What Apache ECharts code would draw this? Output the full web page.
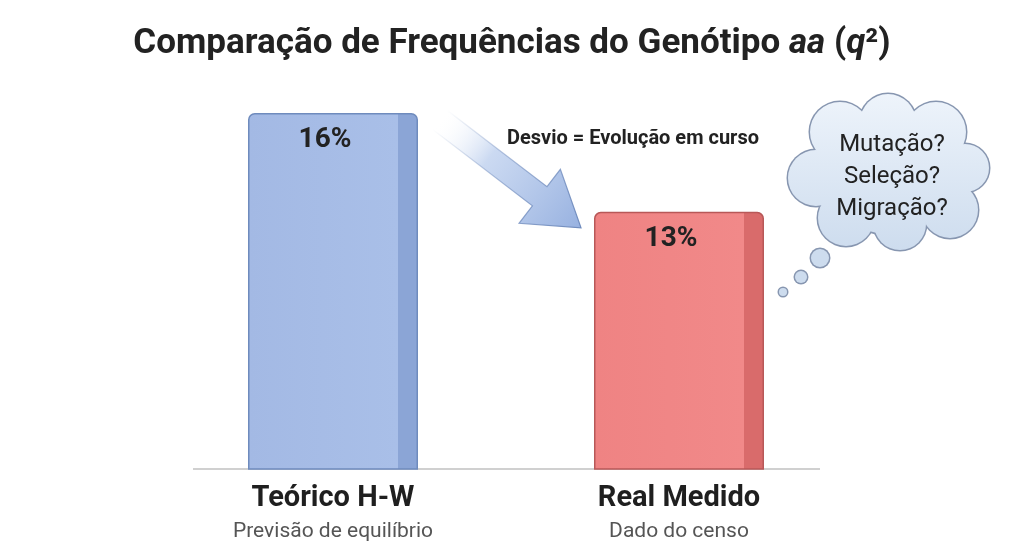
<!DOCTYPE html>
<html>
<head>
<meta charset="utf-8">
<title>Frequências do Genótipo aa</title>
<script src="https://cdn.jsdelivr.net/npm/echarts@6/dist/echarts.min.js"></script>
<style>
  html, body { margin: 0; padding: 0; background: #ffffff; }
  #chart { width: 1024px; height: 559px; }
</style>
</head>
<body>
<div id="chart"></div>
<script>
// categorias e valores (frequência do genótipo aa, em %)
var categories = ['Teórico H-W', 'Real Medido'];
var subtitles = ['Previsão de equilíbrio', 'Dado do censo'];
var values = [16, 13];
var arrowText = 'Desvio = Evolução em curso';
var cloudLines = ['Mutação?', 'Seleção?', 'Migração?'];

var FONT = 'Roboto, "Noto Sans", sans-serif';

// cores: frente, lateral, borda
var palette = [
  { front: '#a3b9e4', frontTop: '#a9bfe8', side: '#8ba5d6', border: '#6f8bbd' },
  { front: '#ef8383', frontTop: '#f18989', side: '#d96b6b', border: '#b85858' }
];

function barColor(p) {
  return new echarts.graphic.LinearGradient(0, 0, 1, 0, [
    { offset: 0, color: p.front },
    { offset: 0.88, color: p.frontTop },
    { offset: 0.881, color: p.side },
    { offset: 1, color: p.side }
  ]);
}

var chart = echarts.init(document.getElementById('chart'));

var option = {
  backgroundColor: '#ffffff',
  animation: false,
  title: {
    left: 'center',
    top: 22,
    text: '{n|Comparação de Frequências do Genótipo }{i|aa}{n| (}{i|q}{n|²)}',
    textStyle: {
      rich: {
        n: { fontFamily: FONT, fontSize: 35, fontWeight: 'bold', color: '#222222' },
        i: { fontFamily: FONT, fontSize: 35, fontWeight: 'bold', fontStyle: 'italic', color: '#222222' }
      }
    }
  },
  grid: { left: 160, right: 172, top: 80, bottom: 90 },
  xAxis: {
    type: 'category',
    data: categories,
    axisLine: { show: false },
    axisTick: { show: false },
    axisLabel: {
      margin: 12,
      formatter: function (v, i) {
        return '{a|' + v + '}\n{b|' + subtitles[i] + '}';
      },
      rich: {
        a: { fontFamily: FONT, fontSize: 29, fontWeight: 'bold', color: '#1f1f1f', lineHeight: 36 },
        b: { fontFamily: FONT, fontSize: 21, color: '#555555', lineHeight: 30 }
      }
    }
  },
  yAxis: {
    type: 'value',
    min: 5.2,
    max: 17,
    show: false
  },
  series: [{
    type: 'bar',
    barWidth: 170,
    data: values.map(function (v, i) {
      return {
        value: v,
        itemStyle: {
          color: barColor(palette[i]),
          borderColor: palette[i].border,
          borderWidth: 1.5,
          borderRadius: [6, 6, 0, 0]
        }
      };
    }),
    label: {
      show: true,
      position: 'insideTop',
      distance: 13,
      offset: [-8, 0],
      formatter: '{c}%',
      fontFamily: FONT,
      fontSize: 28,
      fontWeight: 'bold',
      color: '#222222'
    }
  }]
};

chart.setOption(option);

// decorações: linha de base, seta e nuvem de pensamento
function drawDecor() {
  var p0 = chart.convertToPixel({ gridIndex: 0 }, [0, values[0]]);
  var p1 = chart.convertToPixel({ gridIndex: 0 }, [1, values[1]]);
  var base = chart.convertToPixel({ gridIndex: 0 }, [0, 5.2]);
  var half = 85;

  // seta entre as barras
  var sx = p0[0] + half + 22, sy = p0[1] + 7;
  var ex = p1[0] - half - 13, ey = p1[1] + 16;
  var dx = ex - sx, dy = ey - sy;
  var len = Math.sqrt(dx * dx + dy * dy);
  var ux = dx / len, uy = dy / len, nx = -uy, ny = ux;
  var shaftW = 12, headW = 34, headL = 52;
  var hx = ex - ux * headL, hy = ey - uy * headL;
  var pts = [
    [sx + nx * shaftW, sy + ny * shaftW],
    [hx + nx * shaftW, hy + ny * shaftW],
    [hx + nx * headW, hy + ny * headW],
    [ex, ey],
    [hx - nx * headW, hy - ny * headW],
    [hx - nx * shaftW, hy - ny * shaftW],
    [sx - nx * shaftW, sy - ny * shaftW]
  ];
  var arrowFill = new echarts.graphic.LinearGradient(sx, sy, ex, ey, [
    { offset: 0, color: 'rgba(255,255,255,0)' },
    { offset: 0.35, color: 'rgba(190,208,238,0.8)' },
    { offset: 1, color: '#97b1e0' }
  ], true);
  var arrowStroke = new echarts.graphic.LinearGradient(sx, sy, ex, ey, [
    { offset: 0, color: 'rgba(111,139,189,0)' },
    { offset: 0.4, color: 'rgba(111,139,189,0.5)' },
    { offset: 1, color: '#6f8bbd' }
  ], true);

  // nuvem
  var cx = 888, cy = 172;
  var bumps = [
    [-48, -40, 30], [0, -50, 28], [48, -40, 30], [77, -4, 24],
    [62, 38, 28], [12, 52, 26], [-42, 46, 28], [-72, 6, 28], [0, 0, 62]
  ];
  var bubbles = [[-68, 86, 9], [-87, 105, 6], [-105, 120, 4]];
  var cloudFill = new echarts.graphic.LinearGradient(0, cy - 80, 0, cy + 80, [
    { offset: 0, color: '#eef4fb' },
    { offset: 1, color: '#cddcee' }
  ], true);
  var outline = [], inner = [];
  bumps.concat(bubbles).forEach(function (b) {
    outline.push({
      type: 'circle',
      shape: { cx: cx + b[0], cy: cy + b[1], r: b[2] + 1.5 },
      style: { fill: '#8796b0' },
      silent: true
    });
  });
  bumps.concat(bubbles).forEach(function (b) {
    inner.push({
      type: 'circle',
      shape: { cx: cx + b[0], cy: cy + b[1], r: b[2] },
      style: { fill: cloudFill },
      silent: true
    });
  });

  chart.setOption({
    graphic: [
      {
        type: 'line',
        shape: { x1: p0[0] - 140, y1: base[1], x2: p1[0] + 141, y2: base[1] },
        style: { stroke: '#d0d0d0', lineWidth: 2 },
        z: 0,
        silent: true
      },
      {
        type: 'polygon',
        shape: { points: pts },
        style: { fill: arrowFill, stroke: arrowStroke, lineWidth: 1.2 },
        silent: true
      },
      {
        type: 'text',
        x: 633, y: 139,
        style: {
          text: arrowText,
          fontFamily: FONT, fontSize: 20, fontWeight: 'bold',
          fill: '#222222', align: 'center', verticalAlign: 'middle'
        },
        silent: true
      },
      { type: 'group', children: outline.concat(inner) },
      {
        type: 'text',
        x: 892, y: 177,
        style: {
          text: cloudLines.join('\n'),
          fontFamily: FONT, fontSize: 24, lineHeight: 32,
          fill: '#222222', align: 'center', verticalAlign: 'middle'
        },
        z: 10,
        silent: true
      }
    ]
  });
}

drawDecor();
</script>
</body>
</html>
